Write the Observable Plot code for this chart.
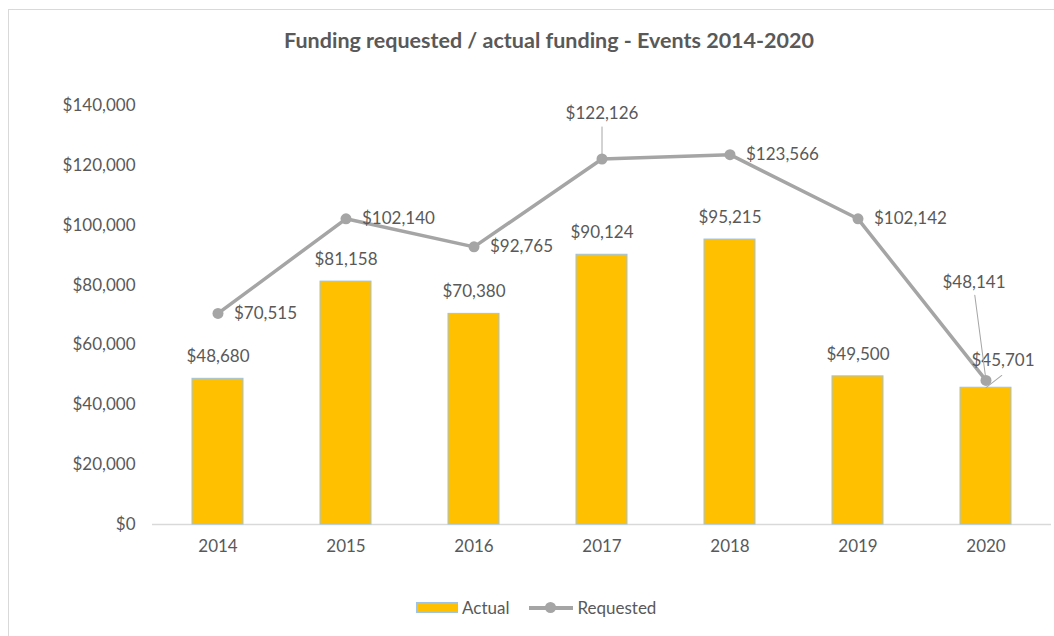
<!DOCTYPE html>
<html>
<head>
<meta charset="utf-8">
<script src="https://cdn.jsdelivr.net/npm/d3@7"></script>
<script src="https://cdn.jsdelivr.net/npm/@observablehq/plot@0.6"></script>
<style>
  html, body { margin: 0; padding: 0; background: #fff; }
  body { width: 1054px; height: 636px; overflow: hidden; position: relative; font-family: Lato, "Open Sans", sans-serif; color: #595959; }
  #frame { position: absolute; left: 8px; top: 9px; width: 1100px; height: 700px; border: 1.5px solid #d9d9d9; box-sizing: border-box; }
  #title { position: absolute; left: 0; top: 27px; width: 1098px; text-align: center; font-size: 21.5px; font-weight: bold; color: #595959; white-space: nowrap; }
  #chart { position: absolute; left: 0; top: 70px; }
  #legend { position: absolute; top: 597px; left: 416px; display: flex; align-items: center; font-size: 17px; color: #595959; }
  .sw-bar { width: 40px; height: 9px; background: #FFC000; border: 1px solid #9DC3E6; margin-right: 4px; }
  .sw-line { position: relative; width: 44px; height: 12px; margin-left: 20px; margin-right: 4px; }
  .sw-line::before { content: ""; position: absolute; left: 0; right: 0; top: 4.5px; height: 3.5px; background: #A5A5A5; }
  .sw-line::after { content: ""; position: absolute; left: 16px; top: 0.5px; width: 11px; height: 11px; border-radius: 50%; background: #A5A5A5; }
</style>
</head>
<body>
<div id="frame"></div>
<div id="title">Funding requested / actual funding - Events 2014-2020</div>
<div id="chart"></div>
<div id="legend"><div class="sw-bar"></div><span>Actual</span><div class="sw-line"></div><span>Requested</span></div>
<script>
const years = ["2014", "2015", "2016", "2017", "2018", "2019", "2020"];
const actual = [48680, 81158, 70380, 90124, 95215, 49500, 45701];
const requested = [70515, 102140, 92765, 122126, 123566, 102142, 48141];
const yTicks = [0, 20000, 40000, 60000, 80000, 100000, 120000, 140000];

const rows = years.map((y, i) => ({year: y, actual: actual[i], requested: requested[i]}));
const money = d => "$" + d3.format(",")(d);

const aboveReq = new Set(["2017", "2020"]);
const labelColor = "#595959";
const font = "Lato, 'Open Sans', sans-serif";
const fs = 17;

const leader = {
  draw(context, l) { context.moveTo(0, 0); context.lineTo(0, -l); }
};

const chart = Plot.plot({
  width: 1054,
  height: 490,
  marginLeft: 152,
  marginRight: 3,
  marginTop: 35,
  marginBottom: 36,
  style: {fontFamily: font, fontSize: fs + "px", color: labelColor, background: "transparent"},
  x: {domain: years, paddingInner: 0.6, paddingOuter: 0.3, label: null},
  y: {domain: [0, 140000], label: null},
  marks: [
    Plot.axisY({ticks: yTicks, tickFormat: money, tickSize: 0, tickPadding: 17, fill: labelColor, fontSize: fs}),
    Plot.axisX({tickSize: 0, tickPadding: 15, fill: labelColor, fontSize: fs}),
    Plot.ruleY([0], {stroke: "#d9d9d9", strokeWidth: 1.5}),
    Plot.barY(rows, {x: "year", y: "actual", fill: "#FFC000", stroke: "#9DC3E6", strokeWidth: 1}),
    Plot.line(rows, {x: "year", y: "requested", stroke: "#A5A5A5", strokeWidth: 3.5}),
    Plot.dot(rows, {x: "year", y: "requested", r: 5.5, fill: "#A5A5A5", stroke: "none"}),
    // actual labels
    Plot.text(rows.filter(d => d.year !== "2020"), {x: "year", y: "actual", text: d => money(d.actual), dy: -22, fill: labelColor, fontSize: fs}),
    Plot.text(rows.filter(d => d.year === "2020"), {x: "year", y: "actual", text: d => money(d.actual), dy: -27, dx: 17, fill: labelColor, fontSize: fs}),
    Plot.vector(rows.filter(d => d.year === "2020"), {x: "year", y: "actual", length: 20, rotate: 52, anchor: "start", shape: leader, stroke: "#a6a6a6", strokeWidth: 1}),
    // requested labels
    Plot.text(rows.filter(d => !aboveReq.has(d.year)), {x: "year", y: "requested", text: d => money(d.requested), dx: 16, textAnchor: "start", fill: labelColor, fontSize: fs}),
    Plot.text(rows.filter(d => d.year === "2017"), {x: "year", y: "requested", text: d => money(d.requested), dy: -45, fill: labelColor, fontSize: fs}),
    Plot.vector(rows.filter(d => d.year === "2017"), {x: "year", y: "requested", length: 32, rotate: 0, anchor: "start", shape: leader, stroke: "#a6a6a6", strokeWidth: 1}),
    Plot.text(rows.filter(d => d.year === "2020"), {x: "year", y: "requested", text: d => money(d.requested), dx: -12, dy: -98, fill: labelColor, fontSize: fs}),
    Plot.vector(rows.filter(d => d.year === "2020"), {x: "year", y: "requested", length: 86, rotate: -7.5, anchor: "start", shape: leader, stroke: "#a6a6a6", strokeWidth: 1})
  ]
});
document.getElementById("chart").appendChild(chart);
</script>
</body>
</html>
